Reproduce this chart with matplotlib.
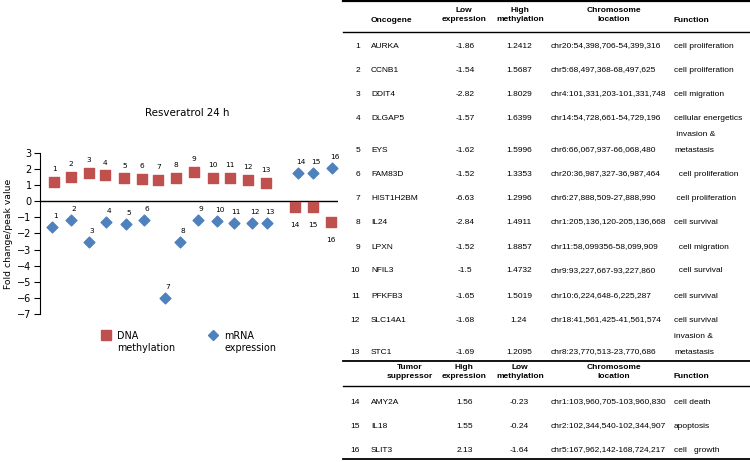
import matplotlib
matplotlib.use("Agg")
import matplotlib.pyplot as plt
from matplotlib.lines import Line2D

# chart values
point_ids = list(range(1, 17))
x_dna = [1.0, 1.95, 2.97, 3.91, 4.98, 5.96, 6.91, 7.93, 8.95, 10.01, 10.96, 11.98, 13.0, 14.64, 15.66, 16.72]
dna_meth = [1.22, 1.51, 1.76, 1.61, 1.43, 1.41, 1.35, 1.47, 1.84, 1.45, 1.45, 1.33, 1.16, -0.33, -0.37, -1.26]
x_mrna = [0.9, 1.95, 2.97, 3.95, 5.07, 6.11, 7.29, 8.16, 9.16, 10.24, 11.18, 12.23, 13.08, 14.84, 15.67, 16.78]
mrna_expr = [-1.61, -1.16, -2.55, -1.30, -1.39, -1.16, -6.0, -2.55, -1.16, -1.24, -1.37, -1.37, -1.37, 1.74, 1.74, 2.07]

# table values
onco_genes = ["AURKA", "CCNB1", "DDIT4", "DLGAP5", "EYS", "FAM83D", "HIST1H2BM", "IL24",
              "LPXN", "NFIL3", "PFKFB3", "SLC14A1", "STC1"]
onco_low_expr = ["-1.86", "-1.54", "-2.82", "-1.57", "-1.62", "-1.52", "-6.63", "-2.84",
                 "-1.52", "-1.5", "-1.65", "-1.68", "-1.69"]
onco_high_meth = ["1.2412", "1.5687", "1.8029", "1.6399", "1.5996", "1.3353", "1.2996", "1.4911",
                  "1.8857", "1.4732", "1.5019", "1.24", "1.2095"]
onco_chrom = ["chr20:54,398,706-54,399,316", "chr5:68,497,368-68,497,625",
              "chr4:101,331,203-101,331,748", "chr14:54,728,661-54,729,196",
              "chr6:66,067,937-66,068,480", "chr20:36,987,327-36,987,464",
              "chr6:27,888,509-27,888,990", "chr1:205,136,120-205,136,668",
              "chr11:58,099356-58,099,909", "chr9:93,227,667-93,227,860",
              "chr10:6,224,648-6,225,287", "chr18:41,561,425-41,561,574",
              "chr8:23,770,513-23,770,686"]
onco_func = ["cell proliferation", "cell proliferation", "cell migration", "cellular energetics",
             " invasion &\nmetastasis", "  cell proliferation", " cell proliferation", "cell survival",
             "  cell migration", "  cell survival", "cell survival", "cell survival",
             "invasion &\nmetastasis"]

sup_genes = ["AMY2A", "IL18", "SLIT3"]
sup_high_expr = ["1.56", "1.55", "2.13"]
sup_low_meth = ["-0.23", "-0.24", "-1.64"]
sup_chrom = ["chr1:103,960,705-103,960,830", "chr2:102,344,540-102,344,907",
             "chr5:167,962,142-168,724,217"]
sup_func = ["cell death", "apoptosis", "cell   growth"]

W, H = 750, 462
red = "#C0504D"
blue = "#4F81BD"

fig = plt.figure(figsize=(W / 100, H / 100), dpi=100)


def px(x, y):
    return x / W, 1 - y / H


# ---- left chart ----
ax = fig.add_axes([40 / W, 1 - 314 / H, (338 - 40) / W, (314 - 153) / H])
ax.scatter(x_dna, dna_meth, marker="s", s=48, color=red, zorder=3)
ax.scatter(x_mrna, mrna_expr, marker="D", s=30, color=blue, zorder=3)
ax.axhline(0, color="black", lw=1)

for i, n in enumerate(point_ids):
    below = dna_meth[i] < 0
    ax.annotate(str(n), (x_dna[i], dna_meth[i]), xytext=(0, -13 if below else 9),
                textcoords="offset points", ha="center", va="center", fontsize=5.3)
    ax.annotate(str(n), (x_mrna[i], mrna_expr[i]), xytext=(2, 8),
                textcoords="offset points", ha="center", va="center", fontsize=5.3)

ax.set_xlim(0.2, 17.1)
ax.set_ylim(-7, 3)
ax.set_yticks(range(-7, 4))
ax.tick_params(axis="y", direction="out", length=4, width=0.8, labelsize=7, pad=2)
ax.set_xticks([])
for s in ["top", "right", "bottom"]:
    ax.spines[s].set_visible(False)
ax.spines["left"].set_linewidth(0.8)
ax.set_ylabel("Fold change/peak value", fontsize=6.7, labelpad=3)
ax.patch.set_alpha(0)

fig.text(*px(187, 113), "Resveratrol 24 h", fontsize=7.4, ha="center", va="center")

# legend
fig.add_artist(Line2D([106 / W], [1 - 335 / H], marker="s", markersize=7, color=red, lw=0))
fig.text(*px(117, 342), "DNA\nmethylation", fontsize=6.9, ha="left", va="center", linespacing=1.3)
fig.add_artist(Line2D([213 / W], [1 - 335 / H], marker="D", markersize=5.5, color=blue, lw=0))
fig.text(*px(224, 342), "mRNA\nexpression", fontsize=6.9, ha="left", va="center", linespacing=1.3)

# ---- right table ----
tfont = "Liberation Sans"
fs = 6


def hline(y, lw):
    fig.add_artist(Line2D([343 / W, 1.0], [1 - y / H, 1 - y / H], color="black", lw=lw))


def cell(x, y, s, ha="left", bold=False):
    fig.text(*px(x, y), s, fontsize=fs, ha=ha, va="center", family=tfont,
             fontweight="bold" if bold else "normal", linespacing=1.25)


hline(1, 1.6)
hline(32, 1.0)
hline(361, 1.3)
hline(386, 1.0)
hline(459, 1.3)

# header 1
cell(371, 20, "Oncogene", bold=True)
cell(464, 15, "Low\nexpression", ha="center", bold=True)
cell(520, 15, "High\nmethylation", ha="center", bold=True)
cell(614, 15, "Chromosome\nlocation", ha="center", bold=True)
cell(673, 20, "Function", bold=True)

# header 2
cell(410, 372, "Tumor\nsuppressor", ha="center", bold=True)
cell(464, 372, "High\nexpression", ha="center", bold=True)
cell(520, 372, "Low\nmethylation", ha="center", bold=True)
cell(614, 372, "Chromosome\nlocation", ha="center", bold=True)
cell(673, 377, "Function", bold=True)

onco_rows_y = [46, 70, 94, 118, 150, 174, 198, 222, 247, 271, 296, 320, 352]
sup_rows_y = [402, 426, 450]


def put_row(num, y, gene, v1, v2, chrom, func):
    cell(360, y, str(num), ha="right")
    cell(371, y, gene)
    cell(465, y, v1, ha="center")
    cell(519, y, v2, ha="center")
    cell(551, y, chrom)
    parts = func.split("\n")
    for k, p in enumerate(parts):
        cell(674, y - (len(parts) - 1 - k) * 15, p)


for i in range(len(onco_genes)):
    put_row(i + 1, onco_rows_y[i], onco_genes[i], onco_low_expr[i], onco_high_meth[i],
            onco_chrom[i], onco_func[i])

for i in range(len(sup_genes)):
    put_row(i + 14, sup_rows_y[i], sup_genes[i], sup_high_expr[i], sup_low_meth[i],
            sup_chrom[i], sup_func[i])

fig.savefig("out.png", dpi=100)
